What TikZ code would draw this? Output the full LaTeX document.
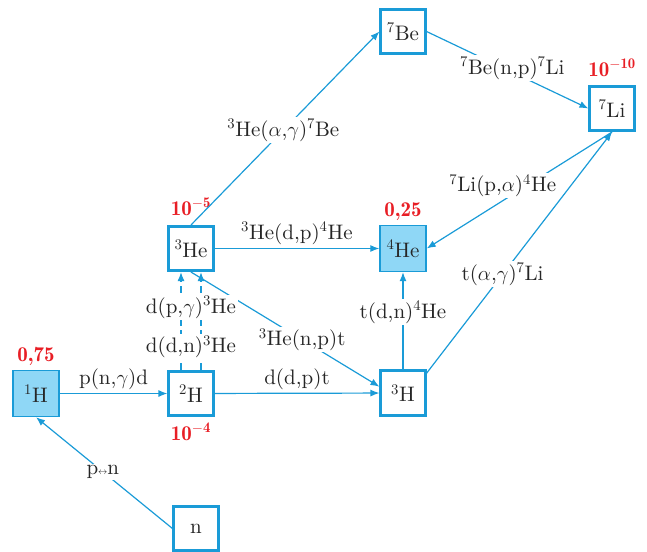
\documentclass[tikz,border=0pt]{standalone}
\usepackage{amsmath}
\usepackage{tikz}
\usetikzlibrary{arrows.meta,positioning}
\DeclareFontFamily{TU}{lmten}{}
\DeclareFontShape{TU}{lmten}{m}{n}{<-> "[lmroman10-regular]:+tlig;"}{}
\DeclareFontShape{TU}{lmten}{sb}{n}{<-> "[lmromandemi10-regular]:+tlig;"}{}
\definecolor{nblue}{RGB}{26,155,215}
\definecolor{nfill}{RGB}{143,215,246}
\definecolor{nred}{RGB}{232,30,37}
\definecolor{ngray}{RGB}{38,38,38}
\newcommand{\Iso}[2]{\textsuperscript{#1}#2}

\begin{document}
\begin{tikzpicture}[x=1pt, y=-1pt,
  font=\fontfamily{lmten}\fontsize{21}{25}\selectfont,
  nuc/.style={draw=nblue, line width=2.6pt, fill=white, minimum size=44.5pt, inner sep=0pt, text=ngray},
  rich/.style={nuc, line width=1.4pt, fill=nfill, minimum size=46pt},
  abund/.style={text=nred, inner sep=1pt, font=\fontfamily{lmten}\fontseries{sb}\fontsize{21}{25}\selectfont},
  lbl/.style={fill=white, text=ngray, inner sep=1.5pt},
  rx/.style={draw=nblue, line width=1.2pt, -{Latex[length=9pt,width=7pt]}},
  dashrx/.style={rx, dash pattern=on 7pt off 4pt}]

  \useasboundingbox (0,0) rectangle (647,551);

  % nuclei
  \node[rich] (h1)  at (36,393.5)  {\Iso{1}{H}};
  \node[nuc]  (h2)  at (191,393.5) {\Iso{2}{H}};
  \node[nuc]  (h3)  at (403,393)   {\Iso{3}{H}};
  \node[nuc]  (he3) at (191,248.5) {\Iso{3}{He}};
  \node[rich] (he4) at (403,248.5) {\Iso{4}{He}};
  \node[nuc]  (be7) at (403,31.5)  {\Iso{7}{Be}};
  \node[nuc]  (li7) at (612,108.5) {\Iso{7}{Li}};
  \node[nuc]  (n)   at (196,528.5) {n};

  % abundances
  \node[abund, above=3pt of h1]  (a1) {0,75};
  \node[abund, below=5pt of h2]  (a2) {10\textsuperscript{$-$4}};
  \node[abund, above=8pt of he3] (a3) {10\textsuperscript{$-$5}};
  \node[abund, above=3pt of he4] (a4) {0,25};
  \node[abund, above=7pt of li7] (a5) {10\textsuperscript{$-$10}};

  \draw[rx] (n.west) -- node[lbl, pos=0.51] {p{\fontsize{9}{9}\selectfont$\leftrightarrow$}n} (h1.south); %% n->1H
  \draw[rx] (h1) -- node[above, text=ngray] {p(n,$\gamma$)d} (h2); %% 1H->2H
  \draw[rx] (h2) -- node[above, text=ngray] {d(d,p)t} (h3); %% 2H->3H
  \draw[rx] (he3) -- node[above, text=ngray] {\Iso{3}{He}(d,p)\Iso{4}{He}} (he4); %% 3He->4He

  \draw[rx] (he3.south) -- node[lbl, pos=0.59] {\Iso{3}{He}(n,p)t} (h3.165); %% 3He->3H
  \draw[dashrx] ([xshift=-10pt]h2.north) -- ([xshift=-10pt]he3.south); %% 2H->3He
  \draw[dashrx] ([xshift=10pt]h2.north) --
    node[lbl, pos=0.235, xshift=-10pt] {d(d,n)\Iso{3}{He}}
    node[lbl, pos=0.64, xshift=-10pt] {d(p,$\gamma$)\Iso{3}{He}} ([xshift=10pt]he3.south); %% 2H->3He

  \draw[rx] (h3) -- node[lbl, pos=0.59] {t(d,n)\Iso{4}{He}} (he4); %% 3H->4He
  \draw[rx] (h3.40) -- node[lbl, pos=0.41] {t($\alpha$,$\gamma$)\Iso{7}{Li}} (li7.south); %% 3H->7Li
  \draw[rx] (li7.south) -- node[lbl, pos=0.46, xshift=-24pt] {\Iso{7}{Li}(p,$\alpha$)\Iso{4}{He}} (he4.east); %% 7Li->4He

  \draw[rx] (he3.north) -- node[lbl, pos=0.49] {\Iso{3}{He}($\alpha$,$\gamma$)\Iso{7}{Be}} (be7.west); %% 3He->7Be
  \draw[rx] (be7.east) -- node[lbl, pos=0.53, yshift=4pt] {\Iso{7}{Be}(n,p)\Iso{7}{Li}} (li7.west); %% 7Be->7Li
\end{tikzpicture}
\end{document}
